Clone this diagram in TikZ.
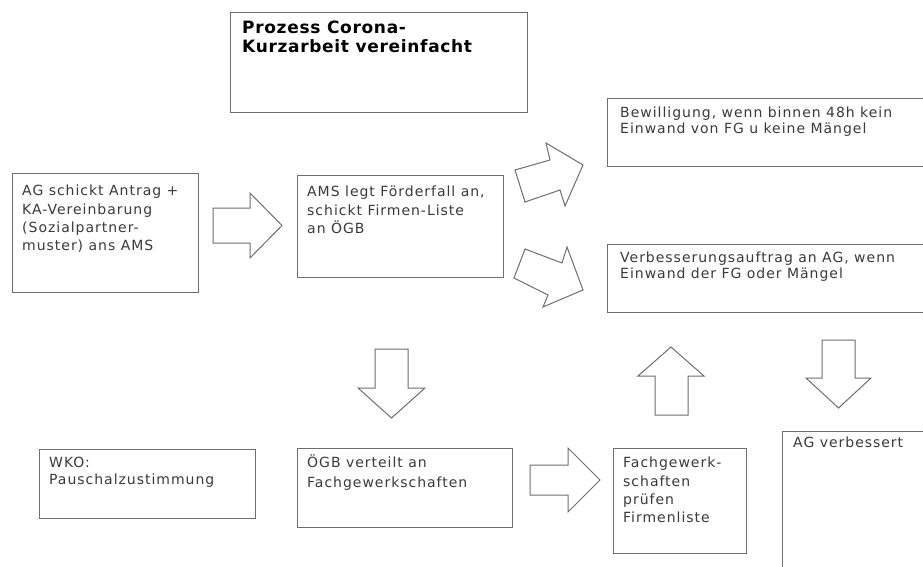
\documentclass[tikz,border=0pt]{standalone}
\usepackage{fontspec}
\newfontfamily\boxfont{DejaVu Sans}[LetterSpace=7]
\newfontfamily\titlefont{DejaVu Sans}[LetterSpace=4]
\definecolor{bordergray}{HTML}{6E6E6E}
\definecolor{textgray}{HTML}{3A3A3A}
\tikzset{
  box/.style={draw=bordergray, line width=1pt, inner sep=0pt, anchor=north west, fill=white},
  txt/.style={inner sep=0pt, anchor=north west, align=left, text=textgray,
    font={\boxfont\fontsize{14}{18.3}\selectfont}},
  txtnarrow/.style={txt, font={\boxfont\fontsize{14}{15.2}\selectfont}},
  ttl/.style={inner sep=0pt, anchor=north west, align=left, text=black,
    font={\titlefont\bfseries\fontsize{17}{18.3}\selectfont}},
  blk/.style={draw=bordergray, line width=1pt, fill=white, line join=miter}
}
\begin{document}
\begin{tikzpicture}[x=1pt,y=-1pt]
\clip (0,0) rectangle (923,567);
\fill[white] (0,0) rectangle (923,567);

% boxes
\node[box, minimum width=297pt, minimum height=100pt] (title) at (230,12) {};
\node[box, minimum width=186pt, minimum height=119pt] (antrag) at (12,173) {};
\node[box, minimum width=206pt, minimum height=102pt] (ams) at (297,175) {};
\node[box, minimum width=328pt, minimum height=68pt] (bew) at (607,98) {};
\node[box, minimum width=328pt, minimum height=68pt] (verb) at (607,244) {};
\node[box, minimum width=216pt, minimum height=69pt] (wko) at (39,449) {};
\node[box, minimum width=215pt, minimum height=79pt] (oegb) at (297,448) {};
\node[box, minimum width=133pt, minimum height=105pt] (fg) at (613,448) {};
\node[box, minimum width=153pt, minimum height=149pt] (agv) at (782,431) {};

% texts
\node[ttl] (titleT) at (242,21) {Prozess Corona-\\Kurzarbeit vereinfacht};
\node[txt] (antragT) at (22,185) {AG schickt Antrag +\\KA-Vereinbarung\\(Sozialpartner-\\muster) ans AMS};
\node[txt] (amsT) at (307,186) {AMS legt Förderfall an,\\schickt Firmen-Liste\\an ÖGB};
\node[txtnarrow] (bewT) at (620,107) {Bewilligung, wenn binnen 48h kein\\Einwand von FG u keine Mängel};
\node[txtnarrow] (verbT) at (620,252) {Verbesserungsauftrag an AG, wenn\\Einwand der FG oder Mängel};
\node[txt, font={\boxfont\fontsize{14}{17}\selectfont}] (wkoT) at (49,457) {WKO:\\Pauschalzustimmung};
\node[txt, font={\boxfont\fontsize{14}{20}\selectfont}] (oegbT) at (307,455) {ÖGB verteilt an\\Fachgewerkschaften};
\node[txt] (fgT) at (623,457) {Fachgewerk-\\schaften\\prüfen\\Firmenliste};
\node[txt] (agvT) at (793,437) {AG verbessert};

% block arrows
\draw[blk] (213,208) -- (250,208) -- (250,193) -- (282,225.5) -- (250,258) -- (250,243) -- (213,243) -- cycle;
\draw[blk] (530,465) -- (568,465) -- (568,448) -- (600,480) -- (568,512) -- (568,495) -- (530,495) -- cycle;
\draw[blk] (515,170) -- (550,160) -- (546,143) -- (583,165) -- (565,206) -- (560,190) -- (525,202) -- cycle;
\draw[blk] (525,249) -- (562,263) -- (567,247) -- (583,290) -- (543,307) -- (548,295) -- (514,278) -- cycle;
\draw[blk] (375,349) -- (408,349) -- (408,388) -- (425,388) -- (391.5,418) -- (358,388) -- (375,388) -- cycle;
\draw[blk] (655,415) -- (688,415) -- (688,376) -- (704,376) -- (671,347) -- (638,376) -- (655,376) -- cycle;
\draw[blk] (822,340) -- (855,340) -- (855,378) -- (871,378) -- (838.5,408) -- (806,378) -- (822,378) -- cycle;
\end{tikzpicture}
\end{document}
